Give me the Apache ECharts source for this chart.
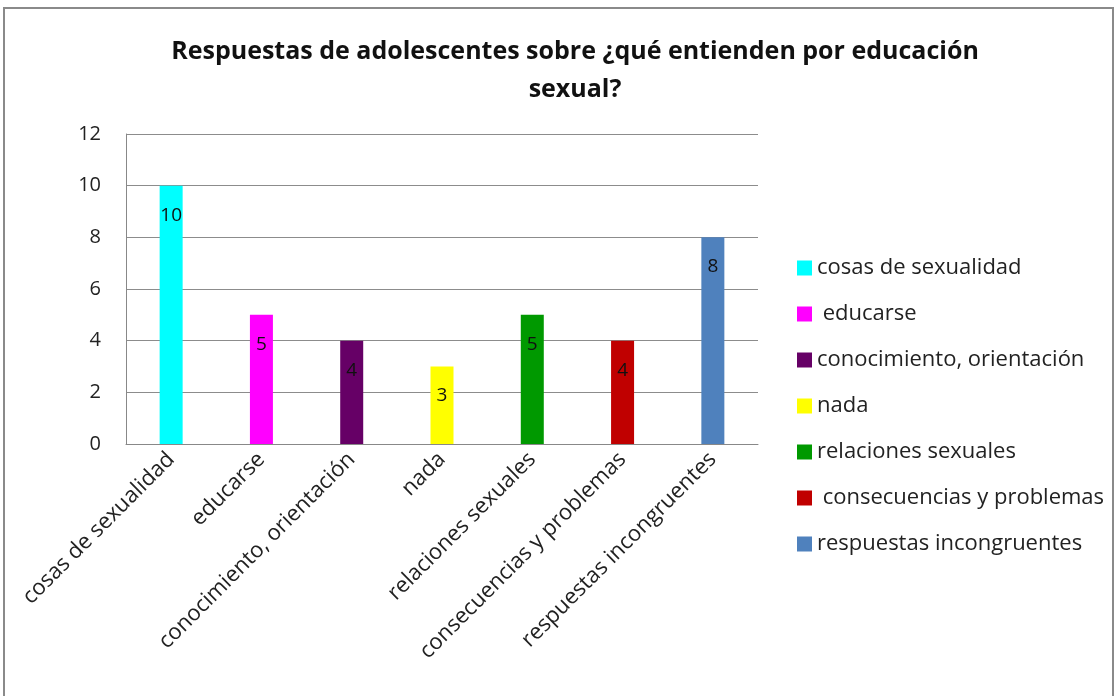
<!DOCTYPE html>
<html><head><meta charset="utf-8">
<script src="https://cdn.jsdelivr.net/npm/echarts@6/dist/echarts.min.js"></script>
<style>html,body{margin:0;padding:0;background:#fff}#c{width:1117px;height:696px}</style>
</head><body><div id="c"></div>
<script>
const titleText = 'Respuestas de adolescentes sobre ¿qué entienden por educación\nsexual?';
const categories = ['cosas de sexualidad','educarse','conocimiento, orientación','nada','relaciones sexuales','consecuencias y problemas','respuestas incongruentes'];
const legendNames = ['cosas de sexualidad',' educarse','conocimiento, orientación','nada','relaciones sexuales',' consecuencias y problemas','respuestas incongruentes'];
const values = [10,5,4,3,5,4,8];
const colors = ['#00FFFF','#FF00FF','#660066','#FFFF00','#009900','#C00000','#4F81BD'];
const yTicks = [0,2,4,6,8,10,12];

const FONT = '"Open Sans", sans-serif';
const series = values.map((v,i)=>({
  name: legendNames[i],
  type: 'bar',
  stack: 'all',
  barWidth: 23,
  itemStyle: {color: colors[i]},
  label: {show: true, position: 'insideTop', distance: 20, color: '#111', fontSize: 19, fontFamily: FONT},
  data: categories.map((c,j)=> j===i ? v : null)
}));

const chart = echarts.init(document.getElementById('c'));
chart.setOption({
  animation: false,
  backgroundColor: '#fff',
  title: {text: titleText, left: 570, textAlign: 'center', top: 28,
    textStyle: {fontFamily: FONT, fontWeight: 'bold', fontSize: 25, color: '#111', lineHeight: 38}},
  graphic: [{type: 'rect', shape: {x: 4, y: 8, width: 1109, height: 720}, style: {fill: 'none', stroke: '#8a8a8a', lineWidth: 2}, silent: true}],
  legend: {orient: 'vertical', left: 792, top: 252, itemWidth: 15, itemHeight: 15, itemGap: 24,
    icon: 'rect', textStyle: {fontFamily: FONT, fontSize: 22, lineHeight: 22, color: '#222'},
    data: legendNames},
  grid: {left: 126, right: 359, top: 134, bottom: 252, containLabel: false},
  xAxis: {type: 'category', data: categories,
    axisLine: {lineStyle: {color: '#888'}}, axisTick: {show: false},
    axisLabel: {interval: 0, rotate: 45, fontFamily: FONT, fontSize: 22, color: '#222', margin: 12}},
  yAxis: {type: 'value', min: yTicks[0], max: yTicks[yTicks.length-1], interval: 2,
    axisLine: {show: true, lineStyle: {color: '#888'}}, axisTick: {show: false},
    splitLine: {lineStyle: {color: '#8c8c8c'}},
    axisLabel: {fontFamily: FONT, fontSize: 20, color: '#222', margin: 25}},
  series: series
});
</script></body></html>
